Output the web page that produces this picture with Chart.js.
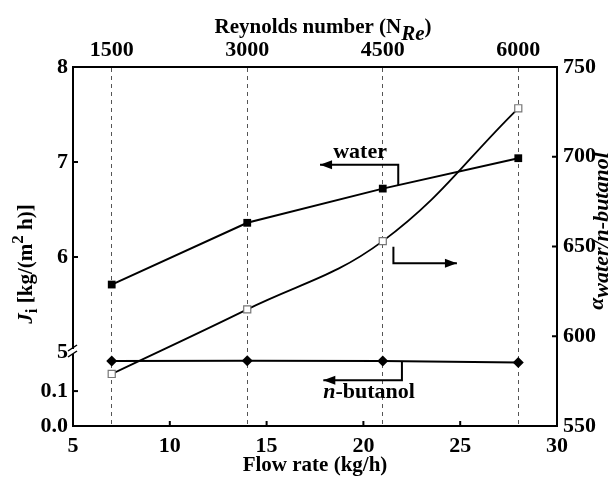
<!DOCTYPE html>
<html><head><meta charset="utf-8">
<script src="https://cdn.jsdelivr.net/npm/chart.js@4"></script>
<style>html,body{margin:0;padding:0;background:#fff}#wrap{width:614px;height:478px;position:relative}</style>
</head><body><div id="wrap"><canvas id="c"></canvas></div>
<script>
// ---- data ----
const flowRate = [7, 14, 21, 28];
const reynolds = ['1500', '3000', '4500', '6000'];
const fluxWater = [5.71, 6.36, 6.72, 7.04];
const fluxButanol = [0.186, 0.187, 0.186, 0.182];
const alpha = [579, 615, 653, 727];
const xTicks = [5, 10, 15, 20, 25, 30];
const leftHighTicks = [5, 6, 7, 8];
const leftLowTicks = [0.0, 0.1];
const rightTicks = [550, 600, 650, 700, 750];

const FONT = "'Liberation Serif', 'Times New Roman', serif";
const tickFont = {family: FONT, size: 22, weight: 'bold'};
function pts(ys) { return flowRate.map((x, i) => ({x: x, y: ys[i]})); }
function setTicks(arr) { return s => { s.ticks = arr.map(v => ({value: v})); }; }

// annotation positions in data units
const annWater = {text: [{t: 'water'}], tx: 19.83, ty: 7.044, axis: 'yHigh',
  path: [[21.8, 6.758], [21.8, 6.97], [17.76, 6.97]]};
const annAlpha = {text: null, axis: 'yR', path: [[21.55, 649.9], [21.55, 640.6], [24.83, 640.6]]};
const annBut = {text: [{t: 'n', i: true}, {t: '-butanol'}], tx: 20.29, ty: 0.080, axis: 'yLow',
  path: [[21.99, 0.184], [21.99, 0.131], [17.93, 0.131]]};

function fontStr(p, size) { return (p.i ? 'italic ' : '') + 'bold ' + Math.round(size * (p.s || 1)) + 'px ' + FONT; }
function drawRich(ctx, parts, cx, cy, rot, size) {
  ctx.save(); ctx.translate(cx, cy); ctx.rotate(rot);
  let total = 0;
  parts.forEach(p => { ctx.font = fontStr(p, size); p._w = ctx.measureText(p.t).width; total += p._w; });
  let x = -total / 2;
  ctx.textBaseline = 'alphabetic'; ctx.textAlign = 'left'; ctx.fillStyle = '#000';
  parts.forEach(p => { ctx.font = fontStr(p, size); ctx.fillText(p.t, x, p.dy || 0); x += p._w; });
  ctx.restore();
}

const deco = {
  id: 'deco',
  afterDraw(chart) {
    const ctx = chart.ctx, S = chart.scales, ca = chart.chartArea;
    ctx.save();
    // inward tick marks
    ctx.strokeStyle = '#000'; ctx.lineWidth = 2;
    const L = 5;
    S.x.ticks.forEach(t => { if (t.value > 5 && t.value < 30) { const px = S.x.getPixelForValue(t.value);
      ctx.beginPath(); ctx.moveTo(px, ca.bottom); ctx.lineTo(px, ca.bottom - L); ctx.stroke(); } });
    [['yHigh', 5.5, 7.5], ['yLow', 0.05, 0.15]].forEach(([id, lo, hi]) => {
      S[id].ticks.forEach(t => { if (t.value > lo && t.value < hi) { const py = S[id].getPixelForValue(t.value);
        ctx.beginPath(); ctx.moveTo(ca.left, py); ctx.lineTo(ca.left + L, py); ctx.stroke(); } });
    });
    S.yR.ticks.forEach(t => { if (t.value > 550 && t.value < 750) { const py = S.yR.getPixelForValue(t.value);
      ctx.beginPath(); ctx.moveTo(ca.right, py); ctx.lineTo(ca.right - L, py); ctx.stroke(); } });
    // axis break
    const yb = S.yHigh.bottom, x0 = ca.left;
    ctx.fillStyle = '#fff'; ctx.fillRect(x0 - 4, yb - 3, 8, 5);
    ctx.lineWidth = 1.5; ctx.strokeStyle = '#000';
    ctx.beginPath(); ctx.moveTo(x0 - 5, yb - 1); ctx.lineTo(x0 + 4, yb - 7); ctx.stroke();
    ctx.beginPath(); ctx.moveTo(x0 - 5, yb + 5); ctx.lineTo(x0 + 4, yb - 1); ctx.stroke();
    // annotations
    [annWater, annAlpha, annBut].forEach(a => {
      const ys = S[a.axis];
      const p = a.path.map(([vx, vy]) => [S.x.getPixelForValue(vx), ys.getPixelForValue(vy)]);
      ctx.strokeStyle = '#000'; ctx.lineWidth = 2;
      ctx.beginPath(); ctx.moveTo(p[0][0], p[0][1]);
      for (let i = 1; i < p.length; i++) ctx.lineTo(p[i][0], p[i][1]);
      ctx.stroke();
      const n = p.length, tip = p[n - 1], prev = p[n - 2];
      const ang = Math.atan2(tip[1] - prev[1], tip[0] - prev[0]);
      const AL = 12, AW = 4.5;
      ctx.fillStyle = '#000';
      ctx.beginPath();
      ctx.moveTo(tip[0], tip[1]);
      ctx.lineTo(tip[0] - AL * Math.cos(ang) + AW * Math.sin(ang), tip[1] - AL * Math.sin(ang) - AW * Math.cos(ang));
      ctx.lineTo(tip[0] - AL * Math.cos(ang) - AW * Math.sin(ang), tip[1] - AL * Math.sin(ang) + AW * Math.cos(ang));
      ctx.closePath(); ctx.fill();
      if (a.text) drawRich(ctx, a.text, S.x.getPixelForValue(a.tx), ys.getPixelForValue(a.ty), 0, 22);
    });
    // axis titles
    drawRich(ctx, [{t: 'Reynolds number (N'}, {t: 'Re', i: true, dy: 7}, {t: ')'}], 323, 33, 0, 21);
    drawRich(ctx, [{t: 'Flow rate (kg/h)'}], 315, 471, 0, 21);
    drawRich(ctx, [{t: 'J', i: true}, {t: 'i', s: 0.8, dy: 5}, {t: ' [kg/(m'}, {t: '2', s: 0.8, dy: -9}, {t: ' h)]'}],
      32, 264, -Math.PI / 2, 21);
    drawRich(ctx, [{t: 'α', i: true}, {t: 'water/n-butanol', i: true, dy: 5}], 603, 231, -Math.PI / 2, 22);
    ctx.restore();
  }
};

const border = {display: true, width: 2, color: '#000'};
const noGrid = {display: false, drawTicks: false};

new Chart(document.getElementById('c'), {
  type: 'line',
  data: {
    datasets: [
      {label: 'water', data: pts(fluxWater), xAxisID: 'x', yAxisID: 'yHigh',
        borderColor: '#000', backgroundColor: '#000', borderWidth: 2,
        pointStyle: 'rect', pointRadius: 5.5, pointBorderWidth: 0, tension: 0},
      {label: 'alpha', data: pts(alpha), xAxisID: 'x', yAxisID: 'yR',
        borderColor: '#000', borderWidth: 1.8, pointBackgroundColor: '#fff', pointBorderColor: '#777',
        pointBorderWidth: 1.2, pointStyle: 'rect', pointRadius: 5, tension: 0.4},
      {label: 'n-butanol', data: pts(fluxButanol), xAxisID: 'x', yAxisID: 'yLow',
        borderColor: '#000', backgroundColor: '#000', borderWidth: 2,
        pointStyle: 'rectRot', pointRadius: 5.5, pointBorderWidth: 0, tension: 0}
    ]
  },
  options: {
    responsive: true, maintainAspectRatio: false, animation: false,
    layout: {padding: 0},
    plugins: {legend: {display: false}, tooltip: {enabled: false}},
    scales: {
      x: {type: 'linear', position: 'bottom', min: 5, max: 30, afterBuildTicks: setTicks(xTicks),
        ticks: {font: tickFont, color: '#000', padding: 7, maxRotation: 0, autoSkip: false, callback: v => String(v)},
        grid: noGrid, border: border, afterFit: s => { s.height = 52; }},
      xTop: {type: 'linear', position: 'top', min: 5, max: 30, afterBuildTicks: setTicks(flowRate),
        ticks: {font: tickFont, color: '#000', padding: 3, maxRotation: 0, autoSkip: false,
          callback: v => reynolds[flowRate.indexOf(v)]},
        grid: {display: true, drawOnChartArea: true, drawTicks: false, color: '#555', lineWidth: 1},
        border: {display: true, width: 2, color: '#000', dash: [4, 4]}, afterFit: s => { s.height = 67; }},
      yLow: {type: 'linear', position: 'left', stack: 'left', stackWeight: 74, min: 0, max: 0.212,
        afterBuildTicks: setTicks(leftLowTicks),
        ticks: {font: tickFont, color: '#000', padding: 5, callback: v => v.toFixed(1)},
        grid: noGrid, border: border, afterFit: s => { s.width = 73; }},
      yHigh: {type: 'linear', position: 'left', stack: 'left', stackWeight: 285, min: 5, max: 8,
        afterBuildTicks: setTicks(leftHighTicks),
        ticks: {font: tickFont, color: '#000', padding: 5, callback: v => String(v)},
        grid: noGrid, border: border, afterFit: s => { s.width = 73; }},
      yR: {type: 'linear', position: 'right', min: 550, max: 750, afterBuildTicks: setTicks(rightTicks),
        ticks: {font: tickFont, color: '#000', padding: 6, callback: v => String(v)},
        grid: noGrid, border: border, afterFit: s => { s.width = 57; }}
    }
  },
  plugins: [deco]
});
</script>
</body></html>
